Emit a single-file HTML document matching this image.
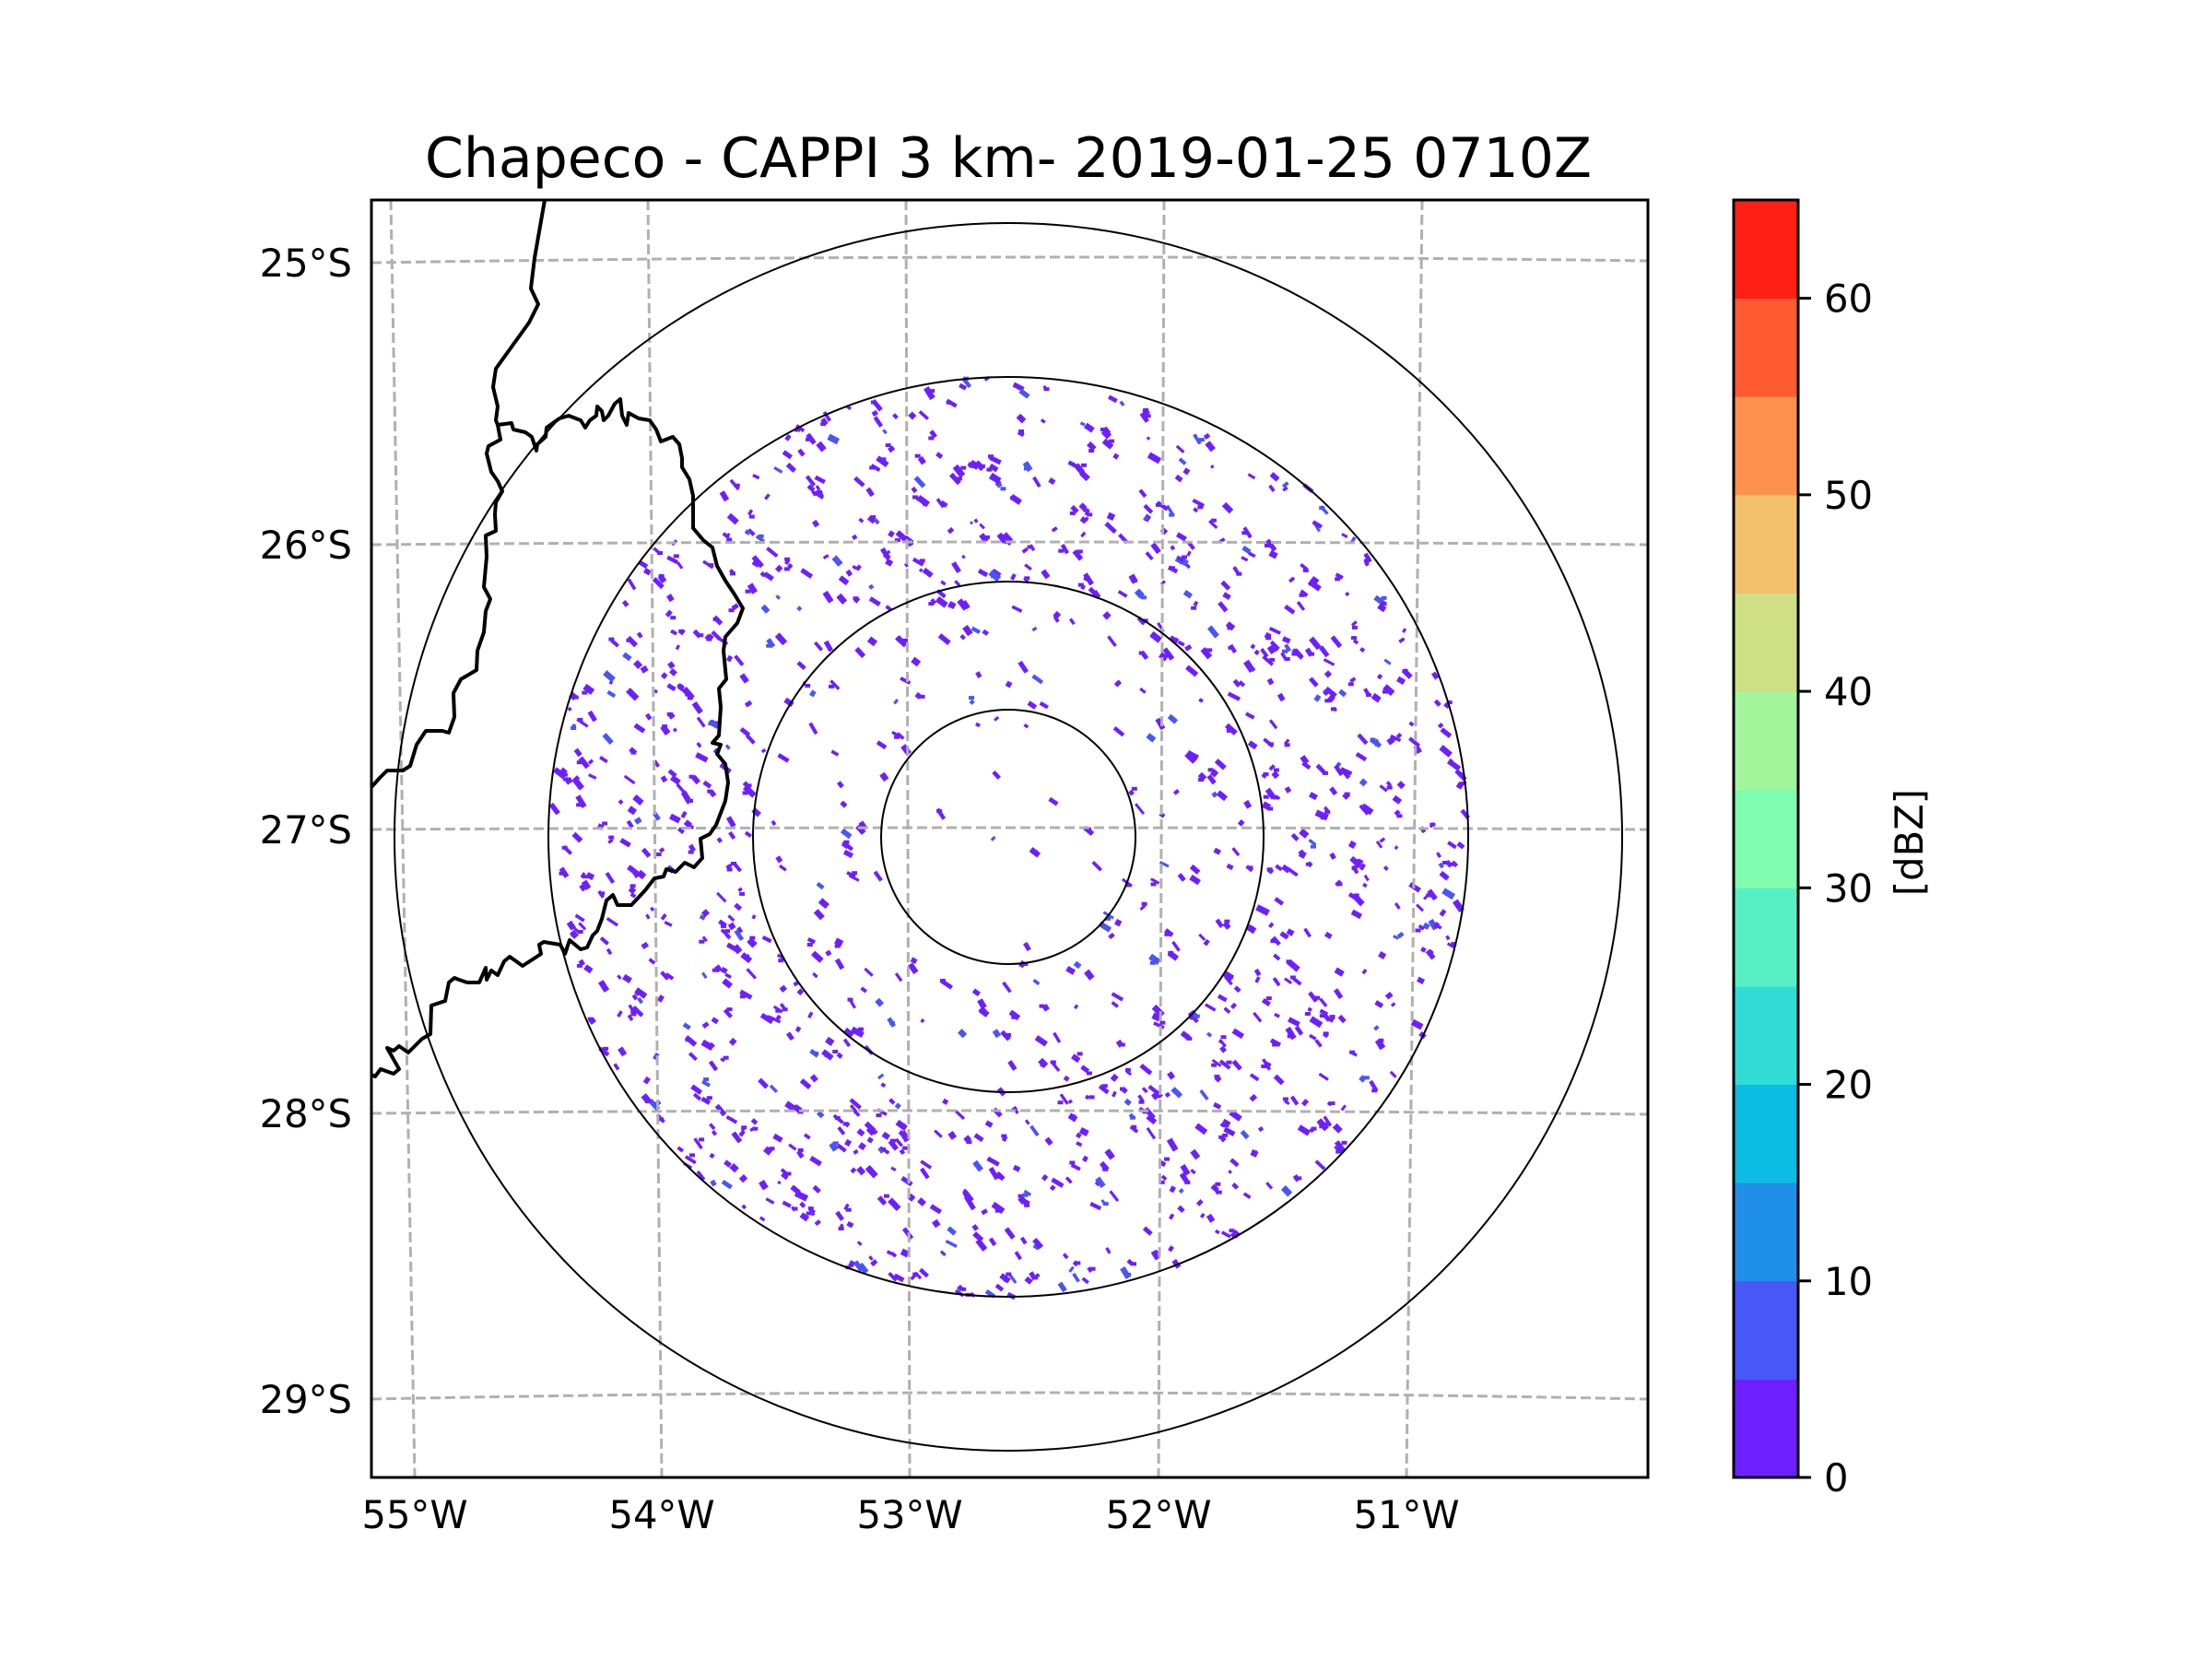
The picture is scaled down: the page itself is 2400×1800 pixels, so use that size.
<!DOCTYPE html>
<html><head><meta charset="utf-8"><style>
html,body{margin:0;padding:0;background:#fff;}
svg{display:block;font-family:"DejaVu Sans","Liberation Sans",sans-serif;}
</style></head><body>
<svg id="fig" width="2400" height="1800" viewBox="0 0 2400 1800" xmlns="http://www.w3.org/2000/svg">
<rect width="2400" height="1800" fill="#fff"/>
<text x="1094" y="192" font-size="60" text-anchor="middle">Chapeco - CAPPI 3 km- 2019-01-25 0710Z</text>
<defs><clipPath id="ax"><rect x="403" y="217" width="1385" height="1386"/></clipPath></defs>
<g id="plot" clip-path="url(#ax)">
 <g id="speckles"></g>
 <g id="grid"></g>
 <g fill="none" stroke="#000" stroke-width="4" stroke-linejoin="round">
  <polyline points="591,217 580,280 576,313 584,330 574,350 556,375 538,400 535,420 540,441 538,456 540,461"/>
  <polyline points="540,461 555,459 557,466 570,469 577,474 582,489 583,482 592,474 593,464 600,459 607,454 617,451 630,456 635,464 640,456 647,451 648,441 653,446 655,456 660,451 667,438 673,433 675,451 680,461 682,448 693,454 705,456 712,466 717,479 730,474 737,482 740,497 740,507 748,520 752,538 752,573 763,586 773,594 778,614 787,630 797,645 806,660 800,676 787,691 785,706 788,737 780,747 782,767 780,798 773,806 782,808 778,818 787,829 790,849 787,869 777,895 770,905 760,910 762,931 753,941 743,936 733,946 723,943 720,951 710,953 700,966 685,982 670,982 665,971 658,977 653,997 648,1010 643,1015 637,1028 630,1030 618,1020 613,1035 608,1025 590,1022 585,1025 587,1035 567,1048 553,1038 547,1043 540,1058 533,1053 528,1063 527,1050 520,1066 507,1066 498,1063 493,1061 487,1066 483,1086 468,1091 467,1122 458,1127 443,1142 433,1135 427,1140 420,1137 433,1160 427,1165 413,1160 407,1168 403,1166"/>
  <polyline points="540,461 543,477 530,484 528,492 533,512 540,522 545,533 538,545 537,558 538,576 527,581 528,604 525,637 532,650 527,663 525,686 518,706 517,727 500,737 492,752 493,778 487,795 480,793 462,793 452,808 445,831 437,836 420,836 412,844 403,854"/>
 </g>
 <g fill="none" stroke="#000" stroke-width="2">
  <circle cx="1094" cy="908" r="138"/>
  <circle cx="1094" cy="908" r="277"/>
  <circle cx="1094" cy="908" r="499"/>
  <circle cx="1094" cy="908" r="666"/>
 </g>
</g>
<rect x="403" y="217" width="1385" height="1386" fill="none" stroke="#000" stroke-width="3"/>
<g id="ticks" font-size="41.7"></g>
<g id="cbar"></g>
<text transform="translate(2086,914) rotate(-90)" font-size="41.7" text-anchor="middle">[dBZ]</text>
</svg>
<script>
const NS='http://www.w3.org/2000/svg';
const lonLabels=['55°W','54°W','53°W','52°W','51°W'];
const lonTopX=[424,703,983,1263,1543];
const lonBotX=[450,718,987,1257,1526];
const latLabels=['25°S','26°S','27°S','28°S','29°S'];
const latLeftY=[285,591,900,1208,1518];
const latMidY=[279,588,898,1205,1511];
const latRightY=[283,591,900,1209,1518];
const cbLevels=[0,5,10,15,20,25,30,35,40,45,50,55,60,65];
const cbColors=['#6e1fff','#4858f6','#1f8fe8','#0bbde3','#33dbd7','#57f0c4','#80fdb0','#a3f59b','#cfdf84','#f3c06b','#ff914e','#ff5a32','#ff1f15'];
const cbTicks=[0,10,20,30,40,50,60];
function mk(tag,attrs,parent){const e=document.createElementNS(NS,tag);for(const k in attrs)e.setAttribute(k,attrs[k]);parent.appendChild(e);return e;}
const grid=document.getElementById('grid');
const ticks=document.getElementById('ticks');
for(let i=0;i<lonLabels.length;i++){
 const l=mk('line',{x1:lonTopX[i],y1:217,x2:lonBotX[i],y2:1603,stroke:'#b0b0b0','stroke-width':3,'stroke-dasharray':'11,5'},grid);
 
 
 const t=mk('text',{x:lonBotX[i],y:1658,'text-anchor':'middle'},ticks);t.textContent=lonLabels[i];
 
 
}
for(let i=0;i<latLabels.length;i++){
 const cy=2*latMidY[i]-(latLeftY[i]+latRightY[i])/2;
 const p=mk('path',{d:`M403,${latLeftY[i]} Q1094,${cy} 1788,${latRightY[i]}`,fill:'none',stroke:'#b0b0b0','stroke-width':3,'stroke-dasharray':'11,5'},grid);
 
 
 const t=mk('text',{x:382,y:latLeftY[i]+15,'text-anchor':'end'},ticks);t.textContent=latLabels[i];
 
 
}
const cb=document.getElementById('cbar');
const cbY=v=>1603-(v-0)*(1386/65);
for(let i=0;i<cbColors.length;i++){
 const r=mk('rect',{x:1881,y:cbY(cbLevels[i+1]),width:70,height:cbY(cbLevels[i])-cbY(cbLevels[i+1])+0.5,fill:cbColors[i]},cb);
 
 
}
mk('rect',{x:1881,y:217,width:70,height:1386,fill:'none',stroke:'#000','stroke-width':3},cb);
for(const v of cbTicks){
 mk('line',{x1:1951,y1:cbY(v),x2:1965,y2:cbY(v),stroke:'#000','stroke-width':3},cb);
 const t=mk('text',{x:1979,y:cbY(v)+15,'font-size':41.7},cb);t.textContent=v;
 
 
}
// speckle texture (radar echoes) - deterministic seeded texture
let s=12345;function rnd(){s=(s*1103515245+12345)%2147483648;return s/2147483648;}
const sp=document.getElementById('speckles');
let html='';
for(let n=0;n<1900;n++){
 const r=Math.sqrt(rnd())*499;
 let keep = r<138?0.08:(r<277?0.4:0.75);
 if(rnd()>keep) continue;
 const a=rnd()*Math.PI*2;
 const x=1094+r*Math.cos(a), y=908+r*Math.sin(a);
 const L=3+rnd()*11, W=3+rnd()*4;
 const ang=25+rnd()*35;
 const c=rnd()<0.1?'#4a55f5':'#6e1fff';
 html+=`<rect x="${(x-L/2).toFixed(1)}" y="${(y-W/2).toFixed(1)}" width="${L.toFixed(1)}" height="${W.toFixed(1)}" fill="${c}" transform="rotate(${ang.toFixed(0)} ${x.toFixed(1)} ${y.toFixed(1)})"/>`;
 if(rnd()<0.3){const x2=x+(rnd()-0.5)*10,y2=y+(rnd()-0.5)*10;html+=`<rect x="${(x2-3).toFixed(1)}" y="${(y2-2).toFixed(1)}" width="6" height="4" fill="${c}"/>`;}
}
sp.innerHTML=html;
</script>
</body></html>
